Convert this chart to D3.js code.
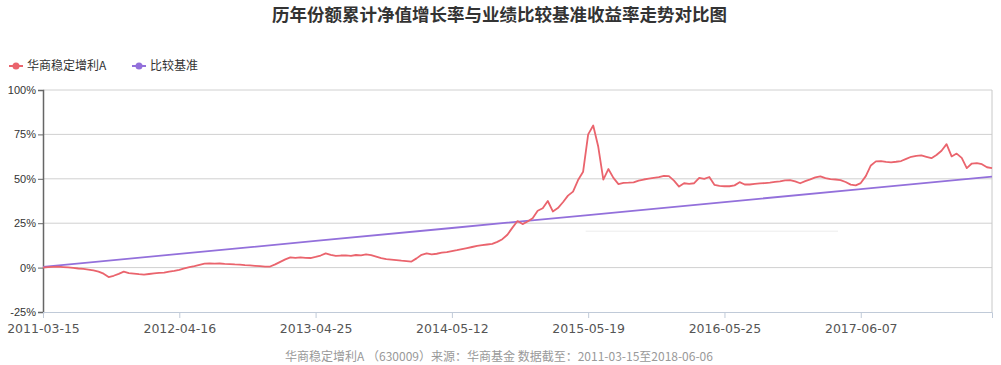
<!DOCTYPE html>
<html>
<head>
<meta charset="utf-8">
<script src="https://cdn.jsdelivr.net/npm/d3@7"></script>
<style>
  body { margin: 0; background: #fff; }
  svg { display: block; font-family: "Noto Sans CJK SC", "Noto Sans", sans-serif; }
</style>
</head>
<body>
<svg id="frame"></svg>
<script>
const width = 1001;
const height = 365;

// tick labels on the category axis (one every 27 points)
const tickLabels = ['2011-03-15', '2012-04-16', '2013-04-25', '2014-05-12', '2015-05-19', '2016-05-25', '2017-06-07'];
const tickStep = 27;

// 华商稳定增利A, cumulative growth %
const fundValues = [
  0, 0.3, 0.4, 0.5, 0.3, 0.1, -0.2, -0.5, -0.7, -1.1,
  -1.6, -2.3, -3.4, -5.3, -4.6, -3.5, -2.3, -3.1, -3.4, -3.7,
  -3.9, -3.6, -3.3, -3.0, -2.8, -2.3, -1.9, -1.3, -0.5, 0.3,
  0.8, 1.5, 2.2, 2.4, 2.2, 2.3, 2.1, 2.0, 1.8, 1.7,
  1.4, 1.2, 1.0, 0.8, 0.6, 0.6, 1.8, 3.2, 4.6, 5.8,
  5.5, 5.8, 5.5, 5.4, 6.0, 6.8, 8.0, 7.2, 6.6, 6.8,
  6.9, 6.6, 7.1, 6.9, 7.4, 7.0, 6.2, 5.4, 4.8, 4.5,
  4.2, 3.9, 3.7, 3.4, 5.2, 7.2, 8.0, 7.4, 7.8, 8.4,
  8.7, 9.3, 9.8, 10.4, 11.0, 11.6, 12.2, 12.6, 13.0, 13.4,
  14.5, 16.0, 18.5, 22.5, 26.2, 24.5, 26.0, 27.8, 32.0, 33.4,
  37.5, 31.6, 33.5, 36.8, 40.5, 42.8, 49.3, 54.0, 75.0, 80.0,
  68.0, 49.5, 55.5, 50.5, 47.0, 47.7, 47.8, 48.0, 49.0, 49.6,
  50.1, 50.5, 50.9, 51.6, 51.5, 49.0, 45.6, 47.5, 47.2, 47.5,
  50.5, 50.0, 51.0, 46.6, 46.0, 45.8, 45.8, 46.3, 48.1, 46.8,
  46.8, 47.1, 47.4, 47.6, 47.9, 48.3, 48.6, 49.1, 49.2, 48.5,
  47.5, 48.7, 49.7, 50.8, 51.4, 50.4, 49.8, 49.6, 49.3, 48.2,
  46.7, 46.3, 47.6, 51.5, 57.5, 59.8, 60.0, 59.5, 59.3, 59.6,
  60.0, 61.2, 62.4, 62.9, 63.2, 62.4, 61.6, 63.4, 65.8, 69.5,
  62.6, 64.2, 61.8, 56.0, 58.6, 58.8, 58.2, 56.5, 56.0
];

// 比较基准 %, read at the tick points and the last point
const benchIndex = [0, 27, 54, 81, 108, 135, 162, 188];
const benchValues = [0.4, 7.7, 15.0, 22.3, 29.6, 36.9, 44.2, 51.2];

const yTicks = [-25, 0, 25, 50, 75, 100];

const fundName = '华商稳定增利A';
const benchName = '比较基准';
const fundColor = '#ea646d';
const benchColor = '#9370db';

const margin = {left: 43, right: 9, top: 90, bottom: 53};
const innerWidth = width - margin.left - margin.right;
const innerHeight = height - margin.top - margin.bottom;

const svg = d3.select('#frame')
  .attr('width', width)
  .attr('height', height);

// title
svg.append('text')
  .attr('x', width / 2 - 1)
  .attr('y', 21)
  .attr('text-anchor', 'middle')
  .attr('font-size', 17.5)
  .attr('font-weight', 'bold')
  .attr('fill', '#333')
  .text('历年份额累计净值增长率与业绩比较基准收益率走势对比图');

// legend
const legend = svg.append('g').attr('transform', 'translate(9,66)');
[[fundName, fundColor, 0], [benchName, benchColor, 123]].forEach(([name, color, dx]) => {
  const item = legend.append('g').attr('transform', `translate(${dx},0)`);
  item.append('line').attr('x1', 0).attr('x2', 14).attr('stroke', color).attr('stroke-width', 2);
  item.append('circle').attr('cx', 7).attr('r', 3.5).attr('fill', color);
  item.append('text').attr('x', 18).attr('y', 4).attr('font-size', 12).attr('fill', '#333').text(name);
});

const xScale = d3.scaleLinear()
  .domain([0, fundValues.length - 1])
  .range([0, innerWidth]);

const yScale = d3.scaleLinear()
  .domain([-25, 100])
  .range([innerHeight, 0]);

const g = svg.append('g').attr('transform', `translate(${margin.left},${margin.top})`);

// grid
g.selectAll('.grid').data(yTicks.filter(d => d > -25)).enter()
  .append('line')
  .attr('class', 'grid')
  .attr('x1', 0).attr('x2', innerWidth)
  .attr('y1', d => yScale(d)).attr('y2', d => yScale(d))
  .attr('stroke', '#d0d0d0').attr('stroke-width', 1);

// right border
g.append('line')
  .attr('x1', innerWidth).attr('x2', innerWidth)
  .attr('y1', 0).attr('y2', innerHeight)
  .attr('stroke', '#c8c8c8');

// faint leftover line seen in the plot
g.append('line')
  .attr('x1', xScale(107.5)).attr('x2', xScale(157.5))
  .attr('y1', yScale(20.5)).attr('y2', yScale(20.5))
  .attr('stroke', '#ececec');

// y axis
const yaxis = d3.axisLeft(yScale).tickValues(yTicks).tickSize(5).tickFormat(d => d + '%');
const yG = g.append('g').call(yaxis);
yG.select('.domain').attr('stroke', '#666').attr('stroke-width', 1.5);
yG.selectAll('.tick line').attr('stroke', '#666');
yG.selectAll('.tick text')
  .attr('font-family', '"Liberation Sans", sans-serif')
  .attr('font-size', 11).attr('fill', '#333').attr('x', -7);

// x axis
const tickIdx = tickLabels.map((d, i) => i * tickStep);
const xaxis = d3.axisBottom(xScale).tickValues(tickIdx).tickSize(6)
  .tickFormat((d, i) => tickLabels[i]);
const xG = g.append('g').attr('transform', `translate(0,${innerHeight})`).call(xaxis);
xG.select('.domain').attr('stroke', '#c0cad8');
xG.selectAll('.tick line').attr('stroke', '#c0cad8');
xG.selectAll('.tick text')
  .attr('font-family', '"DejaVu Sans", sans-serif')
  .attr('font-size', 12.5).attr('fill', '#555').attr('dy', '0.95em');

// lines
const fundLine = d3.line()
  .x((d, i) => xScale(i))
  .y(d => yScale(d));

const benchLine = d3.line()
  .x((d, i) => xScale(benchIndex[i]))
  .y(d => yScale(d));

g.append('path')
  .datum(benchValues)
  .attr('d', benchLine)
  .attr('fill', 'none')
  .attr('stroke', benchColor)
  .attr('stroke-width', 1.8);

g.append('path')
  .datum(fundValues)
  .attr('d', fundLine)
  .attr('fill', 'none')
  .attr('stroke', fundColor)
  .attr('stroke-width', 1.8)
  .attr('stroke-linejoin', 'round');

// footer
svg.append('text')
  .attr('x', 499)
  .attr('y', 361)
  .attr('text-anchor', 'middle')
  .attr('font-size', 12)
  .attr('fill', '#999')
  .text('华商稳定增利A （630009）来源：华商基金 数据截至：2011-03-15至2018-06-06');
</script>
</body>
</html>
